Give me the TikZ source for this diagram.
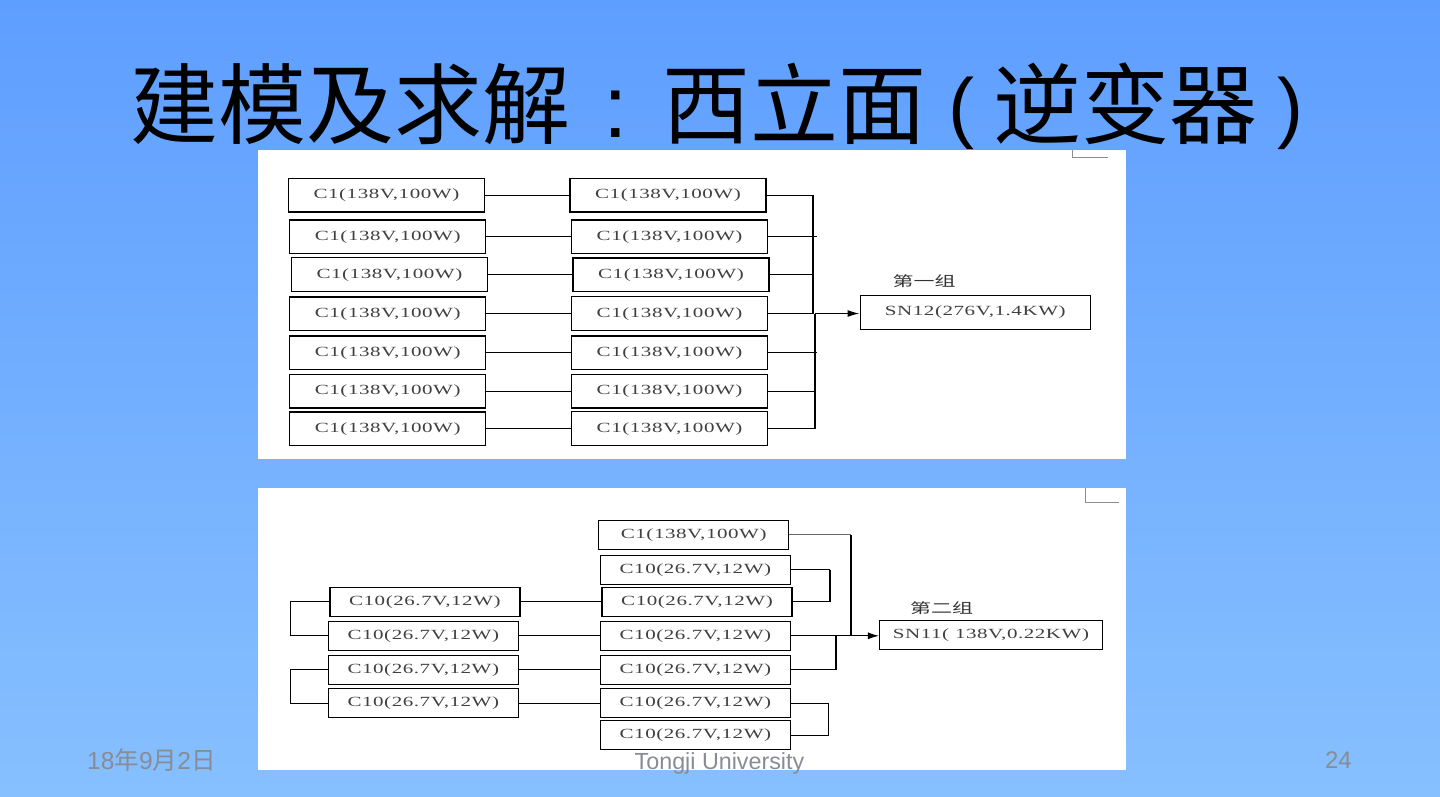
\documentclass[tikz,border=0pt]{standalone}
\usepackage{fontspec}
\setmainfont{Liberation Sans}
\newfontfamily\cjk{Noto Sans CJK SC}
\newfontfamily\boxfont[FakeStretch=1.5,LetterSpace=4]{Liberation Serif}
\newfontfamily\cjkwide[FakeStretch=1.5]{Noto Sans CJK SC}
\usetikzlibrary{arrows.meta}
\definecolor{bgtop}{RGB}{94,158,255}
\definecolor{bgbot}{RGB}{135,192,255}
\definecolor{foot}{RGB}{135,140,150}
\newcommand{\titleparen}[1]{\raisebox{4pt}{\normalfont\fontsize{78}{78}\selectfont #1}}
\tikzset{
 cbox/.style={draw=black,line width=1.5pt,fill=white,inner sep=0pt,text height=9pt,text depth=2pt,
   font=\fontsize{14}{14}\boxfont,text=black!75},
 thinbox/.style={line width=1.2pt},
 topbox/.style={cbox,minimum width=196pt,minimum height=33.5pt},
 lowbox/.style={cbox,minimum width=190pt,minimum height=29pt},
 wire/.style={draw=black,line width=1pt},
 bus/.style={draw=black,line width=2pt},
 feed/.style={draw=black,line width=1.6pt,-{Latex[length=12pt,width=7pt]}},
 panel/.style={fill=white,draw=none},
 cropmark/.style={draw=black!45,line width=1pt},
 footer/.style={text=foot,inner sep=0pt,font=\fontsize{24}{24}\selectfont},
}
\begin{document}
\begin{tikzpicture}[x=1pt,y=-1pt]
\useasboundingbox (0,0) rectangle (1440,796);
\shade[top color=bgtop,bottom color=bgbot] (0,0) rectangle (1440,796);
\node[anchor=west] (title) at (130,106.5) [inner sep=0pt,text=black,font=\fontsize{88}{88}\cjk] {建模及求解\makebox[92pt][c]{\normalfont\fontsize{88}{88}\selectfont :}西立面\hspace{22pt}\titleparen{(}\hspace{19pt}逆变器\hspace{20pt}\titleparen{)}};
% panels
\fill[panel] (258,150) rectangle (1126,459);
\fill[panel] (258,488) rectangle (1126,770);
\coordinate (m1a) at (1072.5,150); \coordinate (m1b) at (1072.5,157.5); \coordinate (m1c) at (1108,157.5);
\draw[cropmark] (m1a) -- (m1b) -- (m1c);
\coordinate (m2a) at (1085,488); \coordinate (m2b) at (1085,502); \coordinate (m2c) at (1119,502);
\draw[cropmark] (m2a) -- (m2b) -- (m2c);
% upper group
\node[topbox,thinbox] (a1) at (386.4,195.3) {C1(138V,100W)};
\node[topbox] (a2) at (387.7,236.8) {C1(138V,100W)};
\node[topbox,thinbox] (a3) at (389.4,274.5) {C1(138V,100W)};
\node[topbox] (a4) at (387.7,313.5) {C1(138V,100W)};
\node[topbox] (a5) at (387.7,352.8) {C1(138V,100W)};
\node[topbox] (a6) at (387.7,391.3) {C1(138V,100W)};
\node[topbox] (a7) at (387.7,428.5) {C1(138V,100W)};
\node[topbox] (b1) at (668,195.3) {C1(138V,100W)};
\node[topbox,thinbox] (b2) at (669.6,236.8) {C1(138V,100W)};
\node[topbox] (b3) at (671,274.5) {C1(138V,100W)};
\node[topbox,thinbox] (b4) at (669.6,313.5) {C1(138V,100W)};
\node[topbox,thinbox] (b5) at (669.6,352.8) {C1(138V,100W)};
\node[topbox,thinbox] (b6) at (669.6,391.3) {C1(138V,100W)};
\node[topbox,thinbox] (b7) at (669.6,428.5) {C1(138V,100W)};
\node[cbox,line width=1.4pt,minimum width=230pt,minimum height=34pt] (sn12) at (975.3,312.3) {SN12(276V,1.4KW)};
\node (g1) at (924,281.5) [inner sep=0pt,text=black!80,font=\fontsize{14}{14}\cjkwide] {第一组};
\foreach \i in {1,...,7} {\draw[wire] (a\i.east) -- (b\i.west);}
\coordinate (j1) at (813,195.3);
\coordinate (j4) at (813,313.5);
\coordinate (j4b) at (815,313.5);
\coordinate (j7) at (815,428.5);
\draw[bus] (j1) -- (j4);
\draw[bus] (j4b) -- (j7);
\draw[wire] (b1.east) -- (j1);
\draw[wire] (b2.east) -- ++(49,0);
\draw[wire] (b3.east) -- ++(44,0);
\draw[wire] (b4.east) -- (j4);
\draw[wire] (b5.east) -- ++(49,0);
\draw[wire] (b6.east) -- ++(47,0);
\draw[wire] (b7.east) -- (j7);
\draw[feed] (j4b) -- (j4b -| sn12.west);
% lower group
\node[lowbox,thinbox] (r1) at (693.7,534.8) {C1(138V,100W)};
\node[lowbox] (r2) at (695.4,569.8) {C10(26.7V,12W)};
\node[lowbox,thinbox] (r3) at (697,601.8) {C10(26.7V,12W)};
\node[lowbox] (r4) at (695.4,635.8) {C10(26.7V,12W)};
\node[lowbox] (r5) at (695.4,669.8) {C10(26.7V,12W)};
\node[lowbox] (r6) at (695.4,703) {C10(26.7V,12W)};
\node[lowbox] (r7) at (695.4,735) {C10(26.7V,12W)};
\node[lowbox] (l1) at (424.9,601.8) {C10(26.7V,12W)};
\node[lowbox] (l2) at (423.3,635.8) {C10(26.7V,12W)};
\node[lowbox] (l3) at (423.3,669.8) {C10(26.7V,12W)};
\node[lowbox] (l4) at (423.3,703) {C10(26.7V,12W)};
\node[cbox,minimum width=222.6pt,minimum height=29pt] (sn11) at (991,634.8) {SN11( 138V,0.22KW)};
\node (g2) at (941.5,608) [inner sep=0pt,text=black!80,font=\fontsize{14}{14}\cjkwide] {第二组};
\foreach \i/\j in {1/3,2/4,3/5,4/6} {\draw[wire] (l\i.east) -- (r\j.west);}
\coordinate (la) at (290.5,601.8);
\coordinate (lb) at (290.5,635.8);
\coordinate (lc) at (290.5,669.8);
\coordinate (ld) at (290.5,703);
\draw[wire] (l1.west) -- (la) -- (lb) -- (l2.west);
\draw[wire] (l3.west) -- (lc) -- (ld) -- (l4.west);
\coordinate (ra) at (830,569.8);
\coordinate (rb) at (830,601.8);
\draw[wire] (r2.east) -- (ra);
\draw[wire] (r3.east) -- (rb);
\draw[bus,line width=1.5pt] (ra) -- (rb);
\coordinate (rc) at (828.6,703);
\coordinate (rd) at (828.6,735);
\draw[wire] (r6.east) -- (rc) -- (rd) -- (r7.east);
\coordinate (ja) at (851,534.8);
\coordinate (jb) at (851,635.8);
\coordinate (jc) at (836,635.8);
\coordinate (jd) at (836,669.8);
\draw[draw=black!60,line width=1pt] (r1.east) -- (ja);
\draw[bus,line width=1.6pt] (ja) -- (jb);
\draw[wire] (r4.east) -- (jc);
\draw[wire,line width=1.3pt] (r5.east) -- (jd) -- (jc);
\draw[wire,-{Latex[length=11pt,width=7pt]}] (jc) -- (jc -| sn11.west);
% footer
\node[footer,anchor=west,font=\fontsize{24.6}{24.6}\selectfont] (date) at (87,760) {18{\cjk 年}9{\cjk 月}2{\cjk 日}};
\node[footer,font=\fontsize{23.3}{23.3}\selectfont] (uni) at (719.5,763) {Tongji University};
\node[footer,anchor=east] (page) at (1352,760) {24};
\end{tikzpicture}
\end{document}
